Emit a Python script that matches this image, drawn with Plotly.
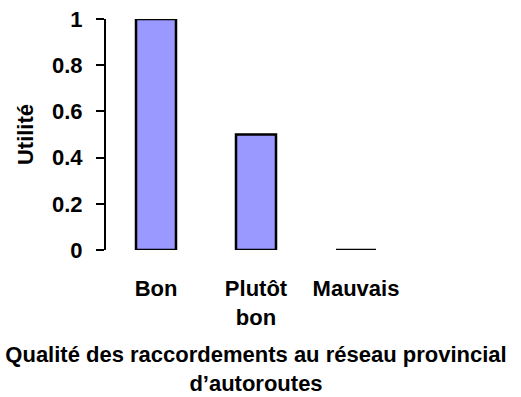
import plotly.graph_objects as go

categories = ["Bon", "Plutôt<br>bon", "Mauvais"]
utilite = [1, 0.5, 0]
y_ticks = [0, 0.2, 0.4, 0.6, 0.8, 1]
y_tick_labels = ["0", "0.2", "0.4", "0.6", "0.8", "1"]

FONT = "Liberation Sans, Arial, sans-serif"
SIZE = 22

fig = go.Figure(
    go.Bar(
        x=categories,
        y=utilite,
        width=0.4,
        marker=dict(color="#9999FF", line=dict(color="black", width=2.5)),
    )
)

fig.update_layout(
    width=521,
    height=397,
    margin=dict(l=106, r=115, t=19, b=147),
    plot_bgcolor="white",
    paper_bgcolor="white",
    showlegend=False,
    font=dict(family=FONT, size=SIZE, color="black", weight="bold"),
)

fig.update_xaxes(
    range=[-0.5, 2.5],
    automargin=False,
    showline=False,
    showgrid=False,
    ticks="",
    ticklabelstandoff=23,
    tickfont=dict(size=SIZE, weight="bold"),
    title=dict(
        text="Qualité des raccordements au réseau provincial<br>d\u2019autoroutes",
        font=dict(size=SIZE, weight="bold"),
        standoff=18,
    ),
)

fig.update_yaxes(
    range=[0, 1],
    automargin=False,
    tickvals=y_ticks,
    ticktext=y_tick_labels,
    showline=True,
    linecolor="black",
    linewidth=2,
    ticks="outside",
    ticklen=8,
    tickwidth=2,
    tickcolor="black",
    showgrid=False,
    zeroline=False,
    ticklabelstandoff=9,
    tickfont=dict(size=SIZE, weight="bold"),
    title=dict(text="Utilité", font=dict(size=SIZE, weight="bold"), standoff=12),
)

fig.write_html("out.html")
